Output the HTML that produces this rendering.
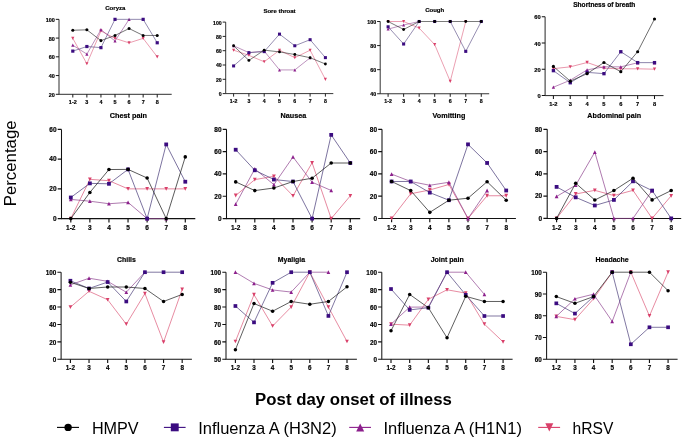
<!DOCTYPE html>
<html><head><meta charset="utf-8"><style>
html,body{margin:0;padding:0;background:#fff;}
svg{display:block;will-change:transform;font-family:"Liberation Sans",sans-serif;}
</style></head><body>
<svg width="685" height="441" viewBox="0 0 685 441">
<style>.b{stroke:#000;stroke-width:0.18px;}</style>
<rect width="685" height="441" fill="#fff"/>
<g><path d="M59 19.35V94.3H171.7" fill="none" stroke="#111" stroke-width="0.88"/><path d="M55.81 94.3H59M55.81 75.56H59M55.81 56.82H59M55.81 38.09H59M55.81 19.35H59M72.8 94.3V97.49M86.87 94.3V97.49M100.94 94.3V97.49M115.01 94.3V97.49M129.08 94.3V97.49M143.15 94.3V97.49M157.22 94.3V97.49" stroke="#111" stroke-width="0.97"/><text x="54.8" y="96.87" font-size="5.46" text-anchor="end" font-weight="bold" class="b">20</text><text x="54.8" y="78.13" font-size="5.46" text-anchor="end" font-weight="bold" class="b">40</text><text x="54.8" y="59.39" font-size="5.46" text-anchor="end" font-weight="bold" class="b">60</text><text x="54.8" y="40.65" font-size="5.46" text-anchor="end" font-weight="bold" class="b">80</text><text x="54.8" y="21.92" font-size="5.46" text-anchor="end" font-weight="bold" class="b">100</text><text x="72.8" y="104.16" font-size="5.46" text-anchor="middle" font-weight="bold" class="b">1-2</text><text x="86.87" y="104.16" font-size="5.46" text-anchor="middle" font-weight="bold" class="b">3</text><text x="100.94" y="104.16" font-size="5.46" text-anchor="middle" font-weight="bold" class="b">4</text><text x="115.01" y="104.16" font-size="5.46" text-anchor="middle" font-weight="bold" class="b">5</text><text x="129.08" y="104.16" font-size="5.46" text-anchor="middle" font-weight="bold" class="b">6</text><text x="143.15" y="104.16" font-size="5.46" text-anchor="middle" font-weight="bold" class="b">7</text><text x="157.22" y="104.16" font-size="5.46" text-anchor="middle" font-weight="bold" class="b">8</text><text x="115.35" y="9.8" font-size="6.06" text-anchor="middle" font-weight="bold" class="b">Coryza</text><polyline points="72.8,38.37 86.87,63.76 100.94,30.97 115.01,38.37 129.08,42.87 143.15,38.37 157.22,56.82" fill="none" stroke="#dc5a7a" stroke-width="0.6" stroke-linejoin="round"/><path d="M71.21 36.78H74.39L72.8 39.96Z" fill="#d9406a"/><path d="M85.28 62.17H88.46L86.87 65.35Z" fill="#d9406a"/><path d="M99.35 29.38H102.53L100.94 32.55Z" fill="#d9406a"/><path d="M113.42 36.78H116.6L115.01 39.96Z" fill="#d9406a"/><path d="M127.49 41.28H130.67L129.08 44.45Z" fill="#d9406a"/><path d="M141.56 36.78H144.74L143.15 39.96Z" fill="#d9406a"/><path d="M155.63 55.24H158.81L157.22 58.41Z" fill="#d9406a"/><polyline points="72.8,45.21 86.87,54.11 100.94,29.66 115.01,40.99 129.08,19.35" fill="none" stroke="#8f4590" stroke-width="0.6" stroke-linejoin="round"/><path d="M72.8 43.62L74.39 46.8H71.21Z" fill="#8c1f8c"/><path d="M86.87 52.52L88.46 55.7H85.28Z" fill="#8c1f8c"/><path d="M100.94 28.07L102.53 31.24H99.35Z" fill="#8c1f8c"/><path d="M115.01 39.4L116.6 42.58H113.42Z" fill="#8c1f8c"/><path d="M129.08 17.76L130.67 20.94H127.49Z" fill="#8c1f8c"/><polyline points="72.8,51.11 86.87,46.52 100.94,47.64 115.01,19.35 143.15,19.35 157.22,42.77" fill="none" stroke="#4a3d7a" stroke-width="0.6" stroke-linejoin="round"/><rect x="71.21" y="49.52" width="3.18" height="3.18" fill="#3b0c80"/><rect x="85.28" y="44.93" width="3.18" height="3.18" fill="#3b0c80"/><rect x="99.35" y="46.06" width="3.18" height="3.18" fill="#3b0c80"/><rect x="113.42" y="17.76" width="3.18" height="3.18" fill="#3b0c80"/><rect x="141.56" y="17.76" width="3.18" height="3.18" fill="#3b0c80"/><rect x="155.63" y="41.18" width="3.18" height="3.18" fill="#3b0c80"/><polyline points="72.8,30.22 86.87,29.84 100.94,40.62 115.01,35.46 129.08,28.53 143.15,35.46 157.22,35.46" fill="none" stroke="#1a1a1a" stroke-width="0.6" stroke-linejoin="round"/><circle cx="72.8" cy="30.22" r="1.51" fill="#000000"/><circle cx="86.87" cy="29.84" r="1.51" fill="#000000"/><circle cx="100.94" cy="40.62" r="1.51" fill="#000000"/><circle cx="115.01" cy="35.46" r="1.51" fill="#000000"/><circle cx="129.08" cy="28.53" r="1.51" fill="#000000"/><circle cx="143.15" cy="35.46" r="1.51" fill="#000000"/><circle cx="157.22" cy="35.46" r="1.51" fill="#000000"/></g><g><path d="M225.7 22.1V93.6H333.3" fill="none" stroke="#111" stroke-width="0.84"/><path d="M222.66 93.6H225.7M222.66 79.3H225.7M222.66 65H225.7M222.66 50.7H225.7M222.66 36.4H225.7M222.66 22.1H225.7M233.6 93.6V96.64M248.9 93.6V96.64M264.2 93.6V96.64M279.5 93.6V96.64M294.8 93.6V96.64M310.1 93.6V96.64M325.4 93.6V96.64" stroke="#111" stroke-width="0.92"/><text x="221.7" y="96.07" font-size="5.2" text-anchor="end" font-weight="bold" class="b">0</text><text x="221.7" y="81.77" font-size="5.2" text-anchor="end" font-weight="bold" class="b">20</text><text x="221.7" y="67.47" font-size="5.2" text-anchor="end" font-weight="bold" class="b">40</text><text x="221.7" y="53.17" font-size="5.2" text-anchor="end" font-weight="bold" class="b">60</text><text x="221.7" y="38.87" font-size="5.2" text-anchor="end" font-weight="bold" class="b">80</text><text x="221.7" y="24.57" font-size="5.2" text-anchor="end" font-weight="bold" class="b">100</text><text x="233.6" y="103.02" font-size="5.2" text-anchor="middle" font-weight="bold" class="b">1-2</text><text x="248.9" y="103.02" font-size="5.2" text-anchor="middle" font-weight="bold" class="b">3</text><text x="264.2" y="103.02" font-size="5.2" text-anchor="middle" font-weight="bold" class="b">4</text><text x="279.5" y="103.02" font-size="5.2" text-anchor="middle" font-weight="bold" class="b">5</text><text x="294.8" y="103.02" font-size="5.2" text-anchor="middle" font-weight="bold" class="b">6</text><text x="310.1" y="103.02" font-size="5.2" text-anchor="middle" font-weight="bold" class="b">7</text><text x="325.4" y="103.02" font-size="5.2" text-anchor="middle" font-weight="bold" class="b">8</text><text x="279.5" y="13" font-size="6.04" text-anchor="middle" font-weight="bold" class="b">Sore throat</text><polyline points="233.6,50.2 248.9,55.35 264.2,61.78 279.5,50.2 294.8,57.71 310.1,50.2 325.4,79.37" fill="none" stroke="#dc5a7a" stroke-width="0.58" stroke-linejoin="round"/><path d="M232.09 48.69H235.11L233.6 51.71Z" fill="#d9406a"/><path d="M247.39 53.84H250.41L248.9 56.86Z" fill="#d9406a"/><path d="M262.69 60.27H265.71L264.2 63.29Z" fill="#d9406a"/><path d="M277.99 48.69H281.01L279.5 51.71Z" fill="#d9406a"/><path d="M293.29 56.2H296.31L294.8 59.22Z" fill="#d9406a"/><path d="M308.59 48.69H311.61L310.1 51.71Z" fill="#d9406a"/><path d="M323.89 77.86H326.91L325.4 80.88Z" fill="#d9406a"/><polyline points="233.6,45.77 248.9,52.63 264.2,51.06 279.5,69.93 294.8,69.93 310.1,57.85" fill="none" stroke="#8f4590" stroke-width="0.58" stroke-linejoin="round"/><path d="M233.6 44.25L235.11 47.28H232.09Z" fill="#8c1f8c"/><path d="M248.9 51.12L250.41 54.14H247.39Z" fill="#8c1f8c"/><path d="M264.2 49.55L265.71 52.57H262.69Z" fill="#8c1f8c"/><path d="M279.5 68.42L281.01 71.45H277.99Z" fill="#8c1f8c"/><path d="M294.8 68.42L296.31 71.45H293.29Z" fill="#8c1f8c"/><path d="M310.1 56.34L311.61 59.36H308.59Z" fill="#8c1f8c"/><polyline points="233.6,65.93 248.9,52.63 264.2,51.63 279.5,34.11 294.8,45.77 310.1,39.69 325.4,57.64" fill="none" stroke="#4a3d7a" stroke-width="0.58" stroke-linejoin="round"/><rect x="232.09" y="64.42" width="3.02" height="3.02" fill="#3b0c80"/><rect x="247.39" y="51.12" width="3.02" height="3.02" fill="#3b0c80"/><rect x="262.69" y="50.12" width="3.02" height="3.02" fill="#3b0c80"/><rect x="277.99" y="32.6" width="3.02" height="3.02" fill="#3b0c80"/><rect x="293.29" y="44.25" width="3.02" height="3.02" fill="#3b0c80"/><rect x="308.59" y="38.18" width="3.02" height="3.02" fill="#3b0c80"/><rect x="323.89" y="56.12" width="3.02" height="3.02" fill="#3b0c80"/><polyline points="233.6,45.77 248.9,60.42 264.2,50.13 279.5,51.92 294.8,54.49 310.1,57.71 325.4,64" fill="none" stroke="#1a1a1a" stroke-width="0.58" stroke-linejoin="round"/><circle cx="233.6" cy="45.77" r="1.44" fill="#000000"/><circle cx="248.9" cy="60.42" r="1.44" fill="#000000"/><circle cx="264.2" cy="50.13" r="1.44" fill="#000000"/><circle cx="279.5" cy="51.92" r="1.44" fill="#000000"/><circle cx="294.8" cy="54.49" r="1.44" fill="#000000"/><circle cx="310.1" cy="57.71" r="1.44" fill="#000000"/><circle cx="325.4" cy="64" r="1.44" fill="#000000"/></g><g><path d="M380.2 21.5V93.75H489.2" fill="none" stroke="#111" stroke-width="0.85"/><path d="M377.12 93.75H380.2M377.12 69.67H380.2M377.12 45.58H380.2M377.12 21.5H380.2M388.1 93.75V96.83M403.63 93.75V96.83M419.16 93.75V96.83M434.69 93.75V96.83M450.22 93.75V96.83M465.75 93.75V96.83M481.28 93.75V96.83" stroke="#111" stroke-width="0.94"/><text x="376.15" y="96.25" font-size="5.27" text-anchor="end" font-weight="bold" class="b">40</text><text x="376.15" y="72.16" font-size="5.27" text-anchor="end" font-weight="bold" class="b">60</text><text x="376.15" y="48.08" font-size="5.27" text-anchor="end" font-weight="bold" class="b">80</text><text x="376.15" y="24" font-size="5.27" text-anchor="end" font-weight="bold" class="b">100</text><text x="388.1" y="103.28" font-size="5.27" text-anchor="middle" font-weight="bold" class="b">1-2</text><text x="403.63" y="103.28" font-size="5.27" text-anchor="middle" font-weight="bold" class="b">3</text><text x="419.16" y="103.28" font-size="5.27" text-anchor="middle" font-weight="bold" class="b">4</text><text x="434.69" y="103.28" font-size="5.27" text-anchor="middle" font-weight="bold" class="b">5</text><text x="450.22" y="103.28" font-size="5.27" text-anchor="middle" font-weight="bold" class="b">6</text><text x="465.75" y="103.28" font-size="5.27" text-anchor="middle" font-weight="bold" class="b">7</text><text x="481.28" y="103.28" font-size="5.27" text-anchor="middle" font-weight="bold" class="b">8</text><text x="434.7" y="11.8" font-size="6" text-anchor="middle" font-weight="bold" class="b">Cough</text><polyline points="388.1,21.5 403.63,21.5 419.16,28.12 434.69,44.62 450.22,81.35 465.75,21.5" fill="none" stroke="#dc5a7a" stroke-width="0.58" stroke-linejoin="round"/><path d="M386.57 19.97H389.63L388.1 23.03Z" fill="#d9406a"/><path d="M402.1 19.97H405.16L403.63 23.03Z" fill="#d9406a"/><path d="M417.63 26.59H420.69L419.16 29.65Z" fill="#d9406a"/><path d="M433.16 43.09H436.22L434.69 46.15Z" fill="#d9406a"/><path d="M448.69 79.82H451.75L450.22 82.88Z" fill="#d9406a"/><path d="M464.22 19.97H467.28L465.75 23.03Z" fill="#d9406a"/><polyline points="388.1,29.09 403.63,24.99 419.16,21.5" fill="none" stroke="#8f4590" stroke-width="0.58" stroke-linejoin="round"/><path d="M388.1 27.56L389.63 30.62H386.57Z" fill="#8c1f8c"/><path d="M403.63 23.46L405.16 26.52H402.1Z" fill="#8c1f8c"/><path d="M419.16 19.97L420.69 23.03H417.63Z" fill="#8c1f8c"/><polyline points="388.1,26.8 403.63,44.02 419.16,21.5" fill="none" stroke="#4a3d7a" stroke-width="0.58" stroke-linejoin="round"/><polyline points="450.22,21.5 465.75,51.36 481.28,21.5" fill="none" stroke="#4a3d7a" stroke-width="0.58" stroke-linejoin="round"/><rect x="386.57" y="25.27" width="3.06" height="3.06" fill="#3b0c80"/><rect x="402.1" y="42.49" width="3.06" height="3.06" fill="#3b0c80"/><rect x="417.63" y="19.97" width="3.06" height="3.06" fill="#3b0c80"/><rect x="433.16" y="19.97" width="3.06" height="3.06" fill="#3b0c80"/><rect x="448.69" y="19.97" width="3.06" height="3.06" fill="#3b0c80"/><rect x="464.22" y="49.83" width="3.06" height="3.06" fill="#3b0c80"/><rect x="479.75" y="19.97" width="3.06" height="3.06" fill="#3b0c80"/><polyline points="388.1,21.5 403.63,29.45 419.16,21.5 434.69,21.5 450.22,21.5 465.75,21.5 481.28,21.5" fill="none" stroke="#1a1a1a" stroke-width="0.58" stroke-linejoin="round"/><circle cx="388.1" cy="21.5" r="1.46" fill="#000000"/><circle cx="403.63" cy="29.45" r="1.46" fill="#000000"/><circle cx="419.16" cy="21.5" r="1.46" fill="#000000"/><circle cx="434.69" cy="21.5" r="1.46" fill="#000000"/><circle cx="450.22" cy="21.5" r="1.46" fill="#000000"/><circle cx="465.75" cy="21.5" r="1.46" fill="#000000"/><circle cx="481.28" cy="21.5" r="1.46" fill="#000000"/></g><g><path d="M545.1 16.8V95.6H663.5" fill="none" stroke="#111" stroke-width="0.92"/><path d="M541.76 95.6H545.1M541.76 69.33H545.1M541.76 43.07H545.1M541.76 16.8H545.1M553.4 95.6V98.94M570.25 95.6V98.94M587.1 95.6V98.94M603.95 95.6V98.94M620.8 95.6V98.94M637.65 95.6V98.94M654.5 95.6V98.94" stroke="#111" stroke-width="1.02"/><text x="540.7" y="98.26" font-size="5.72" text-anchor="end" font-weight="bold" class="b">0</text><text x="540.7" y="71.99" font-size="5.72" text-anchor="end" font-weight="bold" class="b">20</text><text x="540.7" y="45.73" font-size="5.72" text-anchor="end" font-weight="bold" class="b">40</text><text x="540.7" y="19.46" font-size="5.72" text-anchor="end" font-weight="bold" class="b">60</text><text x="553.4" y="105.89" font-size="5.72" text-anchor="middle" font-weight="bold" class="b">1-2</text><text x="570.25" y="105.89" font-size="5.72" text-anchor="middle" font-weight="bold" class="b">3</text><text x="587.1" y="105.89" font-size="5.72" text-anchor="middle" font-weight="bold" class="b">4</text><text x="603.95" y="105.89" font-size="5.72" text-anchor="middle" font-weight="bold" class="b">5</text><text x="620.8" y="105.89" font-size="5.72" text-anchor="middle" font-weight="bold" class="b">6</text><text x="637.65" y="105.89" font-size="5.72" text-anchor="middle" font-weight="bold" class="b">7</text><text x="654.5" y="105.89" font-size="5.72" text-anchor="middle" font-weight="bold" class="b">8</text><text x="604.3" y="6.8" font-size="6.58" text-anchor="middle" font-weight="bold" class="b">Shortness of breath</text><polyline points="553.4,68.68 570.25,66.84 587.1,62.5 603.95,68.28 620.8,68.81 637.65,68.81 654.5,69.2" fill="none" stroke="#dc5a7a" stroke-width="0.63" stroke-linejoin="round"/><path d="M551.74 67.01H555.06L553.4 70.34Z" fill="#d9406a"/><path d="M568.59 65.17H571.91L570.25 68.5Z" fill="#d9406a"/><path d="M585.44 60.84H588.76L587.1 64.17Z" fill="#d9406a"/><path d="M602.29 66.62H605.61L603.95 69.95Z" fill="#d9406a"/><path d="M619.14 67.14H622.46L620.8 70.47Z" fill="#d9406a"/><path d="M635.99 67.14H639.31L637.65 70.47Z" fill="#d9406a"/><path d="M652.84 67.54H656.16L654.5 70.87Z" fill="#d9406a"/><polyline points="553.4,87.19 570.25,80.23 587.1,69.86 603.95,66.84 620.8,66.84 637.65,62.77" fill="none" stroke="#8f4590" stroke-width="0.63" stroke-linejoin="round"/><path d="M553.4 85.53L555.06 88.86H551.74Z" fill="#8c1f8c"/><path d="M570.25 78.57L571.91 81.9H568.59Z" fill="#8c1f8c"/><path d="M587.1 68.2L588.76 71.52H585.44Z" fill="#8c1f8c"/><path d="M603.95 65.17L605.61 68.5H602.29Z" fill="#8c1f8c"/><path d="M620.8 65.17L622.46 68.5H619.14Z" fill="#8c1f8c"/><path d="M637.65 61.1L639.31 64.43H635.99Z" fill="#8c1f8c"/><path d="M654.5 61.1L656.16 64.43H652.84Z" fill="#8c1f8c"/><polyline points="553.4,70.65 570.25,82.73 587.1,72.35 603.95,73.67 620.8,51.73 637.65,62.64 654.5,62.64" fill="none" stroke="#4a3d7a" stroke-width="0.63" stroke-linejoin="round"/><rect x="551.74" y="68.98" width="3.33" height="3.33" fill="#3b0c80"/><rect x="568.59" y="81.07" width="3.33" height="3.33" fill="#3b0c80"/><rect x="585.44" y="70.69" width="3.33" height="3.33" fill="#3b0c80"/><rect x="602.29" y="72" width="3.33" height="3.33" fill="#3b0c80"/><rect x="619.14" y="50.07" width="3.33" height="3.33" fill="#3b0c80"/><rect x="635.99" y="60.97" width="3.33" height="3.33" fill="#3b0c80"/><rect x="652.84" y="60.97" width="3.33" height="3.33" fill="#3b0c80"/><polyline points="553.4,66.44 570.25,81.15 587.1,73.67 603.95,62.5 620.8,71.7 637.65,51.73 654.5,19.03" fill="none" stroke="#1a1a1a" stroke-width="0.63" stroke-linejoin="round"/><circle cx="553.4" cy="66.44" r="1.58" fill="#000000"/><circle cx="570.25" cy="81.15" r="1.58" fill="#000000"/><circle cx="587.1" cy="73.67" r="1.58" fill="#000000"/><circle cx="603.95" cy="62.5" r="1.58" fill="#000000"/><circle cx="620.8" cy="71.7" r="1.58" fill="#000000"/><circle cx="637.65" cy="51.73" r="1.58" fill="#000000"/><circle cx="654.5" cy="19.03" r="1.58" fill="#000000"/></g><g><path d="M61.5 129.4V218.6H195.3" fill="none" stroke="#111" stroke-width="1.05"/><path d="M57.7 218.6H61.5M57.7 188.87H61.5M57.7 159.13H61.5M57.7 129.4H61.5M70.8 218.6V222.4M89.88 218.6V222.4M108.96 218.6V222.4M128.04 218.6V222.4M147.12 218.6V222.4M166.2 218.6V222.4M185.28 218.6V222.4" stroke="#111" stroke-width="1.16"/><text x="56.5" y="220.94" font-size="6.5" text-anchor="end" font-weight="bold" class="b">0</text><text x="56.5" y="191.21" font-size="6.5" text-anchor="end" font-weight="bold" class="b">20</text><text x="56.5" y="161.47" font-size="6.5" text-anchor="end" font-weight="bold" class="b">40</text><text x="56.5" y="131.74" font-size="6.5" text-anchor="end" font-weight="bold" class="b">60</text><text x="70.8" y="230" font-size="6.5" text-anchor="middle" font-weight="bold" class="b">1-2</text><text x="89.88" y="230" font-size="6.5" text-anchor="middle" font-weight="bold" class="b">3</text><text x="108.96" y="230" font-size="6.5" text-anchor="middle" font-weight="bold" class="b">4</text><text x="128.04" y="230" font-size="6.5" text-anchor="middle" font-weight="bold" class="b">5</text><text x="147.12" y="230" font-size="6.5" text-anchor="middle" font-weight="bold" class="b">6</text><text x="166.2" y="230" font-size="6.5" text-anchor="middle" font-weight="bold" class="b">7</text><text x="185.28" y="230" font-size="6.5" text-anchor="middle" font-weight="bold" class="b">8</text><text x="128.4" y="118.1" font-size="7.3" text-anchor="middle" font-weight="bold" class="b">Chest pain</text><polyline points="70.8,218.6 89.88,179.35 108.96,180.69 128.04,188.87 147.12,188.87 166.2,188.87 185.28,188.87" fill="none" stroke="#dc5a7a" stroke-width="0.72" stroke-linejoin="round"/><path d="M68.91 216.71H72.69L70.8 220.49Z" fill="#d9406a"/><path d="M87.99 177.46H91.77L89.88 181.24Z" fill="#d9406a"/><path d="M107.07 178.8H110.85L108.96 182.58Z" fill="#d9406a"/><path d="M126.15 186.98H129.93L128.04 190.76Z" fill="#d9406a"/><path d="M145.23 186.98H149.01L147.12 190.76Z" fill="#d9406a"/><path d="M164.31 186.98H168.09L166.2 190.76Z" fill="#d9406a"/><path d="M183.39 186.98H187.17L185.28 190.76Z" fill="#d9406a"/><polyline points="70.8,199.42 89.88,201.21 108.96,203.73 128.04,202.4 147.12,218.6 166.2,218.6" fill="none" stroke="#8f4590" stroke-width="0.72" stroke-linejoin="round"/><path d="M70.8 197.53L72.69 201.31H68.91Z" fill="#8c1f8c"/><path d="M89.88 199.32L91.77 203.1H87.99Z" fill="#8c1f8c"/><path d="M108.96 201.84L110.85 205.62H107.07Z" fill="#8c1f8c"/><path d="M128.04 200.51L129.93 204.29H126.15Z" fill="#8c1f8c"/><path d="M147.12 216.71L149.01 220.49H145.23Z" fill="#8c1f8c"/><path d="M166.2 216.71L168.09 220.49H164.31Z" fill="#8c1f8c"/><polyline points="70.8,197.49 89.88,183.37 108.96,183.81 128.04,169.39 147.12,218.6 166.2,144.42 185.28,181.73" fill="none" stroke="#4a3d7a" stroke-width="0.72" stroke-linejoin="round"/><rect x="68.91" y="195.6" width="3.78" height="3.78" fill="#3b0c80"/><rect x="87.99" y="181.48" width="3.78" height="3.78" fill="#3b0c80"/><rect x="107.07" y="181.92" width="3.78" height="3.78" fill="#3b0c80"/><rect x="126.15" y="167.5" width="3.78" height="3.78" fill="#3b0c80"/><rect x="145.23" y="216.71" width="3.78" height="3.78" fill="#3b0c80"/><rect x="164.31" y="142.53" width="3.78" height="3.78" fill="#3b0c80"/><rect x="183.39" y="179.84" width="3.78" height="3.78" fill="#3b0c80"/><polyline points="70.8,218.6 89.88,192.43 108.96,169.54 128.04,169.39 147.12,178.01 166.2,218.6 185.28,156.9" fill="none" stroke="#1a1a1a" stroke-width="0.72" stroke-linejoin="round"/><circle cx="70.8" cy="218.6" r="1.8" fill="#000000"/><circle cx="89.88" cy="192.43" r="1.8" fill="#000000"/><circle cx="108.96" cy="169.54" r="1.8" fill="#000000"/><circle cx="128.04" cy="169.39" r="1.8" fill="#000000"/><circle cx="147.12" cy="178.01" r="1.8" fill="#000000"/><circle cx="166.2" cy="218.6" r="1.8" fill="#000000"/><circle cx="185.28" cy="156.9" r="1.8" fill="#000000"/></g><g><path d="M226.5 129.3V218.6H360.2" fill="none" stroke="#111" stroke-width="1.05"/><path d="M222.7 218.6H226.5M222.7 196.28H226.5M222.7 173.95H226.5M222.7 151.62H226.5M222.7 129.3H226.5M235.7 218.6V222.4M254.8 218.6V222.4M273.9 218.6V222.4M293 218.6V222.4M312.1 218.6V222.4M331.2 218.6V222.4M350.3 218.6V222.4" stroke="#111" stroke-width="1.16"/><text x="221.5" y="220.94" font-size="6.5" text-anchor="end" font-weight="bold" class="b">0</text><text x="221.5" y="198.62" font-size="6.5" text-anchor="end" font-weight="bold" class="b">20</text><text x="221.5" y="176.29" font-size="6.5" text-anchor="end" font-weight="bold" class="b">40</text><text x="221.5" y="153.97" font-size="6.5" text-anchor="end" font-weight="bold" class="b">60</text><text x="221.5" y="131.64" font-size="6.5" text-anchor="end" font-weight="bold" class="b">80</text><text x="235.7" y="230" font-size="6.5" text-anchor="middle" font-weight="bold" class="b">1-2</text><text x="254.8" y="230" font-size="6.5" text-anchor="middle" font-weight="bold" class="b">3</text><text x="273.9" y="230" font-size="6.5" text-anchor="middle" font-weight="bold" class="b">4</text><text x="293" y="230" font-size="6.5" text-anchor="middle" font-weight="bold" class="b">5</text><text x="312.1" y="230" font-size="6.5" text-anchor="middle" font-weight="bold" class="b">6</text><text x="331.2" y="230" font-size="6.5" text-anchor="middle" font-weight="bold" class="b">7</text><text x="350.3" y="230" font-size="6.5" text-anchor="middle" font-weight="bold" class="b">8</text><text x="293.35" y="118.1" font-size="7.23" text-anchor="middle" font-weight="bold" class="b">Nausea</text><polyline points="235.7,195.49 254.8,179.64 273.9,176.29 293,195.83 312.1,162.79 331.2,218.6 350.3,195.83" fill="none" stroke="#dc5a7a" stroke-width="0.72" stroke-linejoin="round"/><path d="M233.81 193.6H237.59L235.7 197.38Z" fill="#d9406a"/><path d="M252.91 177.75H256.69L254.8 181.53Z" fill="#d9406a"/><path d="M272.01 174.4H275.79L273.9 178.18Z" fill="#d9406a"/><path d="M291.11 193.94H294.89L293 197.72Z" fill="#d9406a"/><path d="M310.21 160.9H313.99L312.1 164.68Z" fill="#d9406a"/><path d="M329.31 216.71H333.09L331.2 220.49Z" fill="#d9406a"/><path d="M348.41 193.94H352.19L350.3 197.72Z" fill="#d9406a"/><polyline points="235.7,204.2 254.8,168.93 273.9,184.67 293,156.98 312.1,182.21 331.2,190.47" fill="none" stroke="#8f4590" stroke-width="0.72" stroke-linejoin="round"/><path d="M235.7 202.31L237.59 206.09H233.81Z" fill="#8c1f8c"/><path d="M254.8 167.04L256.69 170.82H252.91Z" fill="#8c1f8c"/><path d="M273.9 182.78L275.79 186.56H272.01Z" fill="#8c1f8c"/><path d="M293 155.09L294.89 158.87H291.11Z" fill="#8c1f8c"/><path d="M312.1 180.32L313.99 184.1H310.21Z" fill="#8c1f8c"/><path d="M331.2 188.58L333.09 192.36H329.31Z" fill="#8c1f8c"/><polyline points="235.7,149.73 254.8,170.27 273.9,179.53 293,181.54 312.1,218.6 331.2,134.88 350.3,163.01" fill="none" stroke="#4a3d7a" stroke-width="0.72" stroke-linejoin="round"/><rect x="233.81" y="147.84" width="3.78" height="3.78" fill="#3b0c80"/><rect x="252.91" y="168.38" width="3.78" height="3.78" fill="#3b0c80"/><rect x="272.01" y="177.64" width="3.78" height="3.78" fill="#3b0c80"/><rect x="291.11" y="179.65" width="3.78" height="3.78" fill="#3b0c80"/><rect x="310.21" y="216.71" width="3.78" height="3.78" fill="#3b0c80"/><rect x="329.31" y="132.99" width="3.78" height="3.78" fill="#3b0c80"/><rect x="348.41" y="161.12" width="3.78" height="3.78" fill="#3b0c80"/><polyline points="235.7,181.88 254.8,190.58 273.9,188.01 293,181.54 312.1,178.19 331.2,163.01 350.3,163.01" fill="none" stroke="#1a1a1a" stroke-width="0.72" stroke-linejoin="round"/><circle cx="235.7" cy="181.88" r="1.8" fill="#000000"/><circle cx="254.8" cy="190.58" r="1.8" fill="#000000"/><circle cx="273.9" cy="188.01" r="1.8" fill="#000000"/><circle cx="293" cy="181.54" r="1.8" fill="#000000"/><circle cx="312.1" cy="178.19" r="1.8" fill="#000000"/><circle cx="331.2" cy="163.01" r="1.8" fill="#000000"/><circle cx="350.3" cy="163.01" r="1.8" fill="#000000"/></g><g><path d="M382 129.3V218.5H515.9" fill="none" stroke="#111" stroke-width="1.05"/><path d="M378.2 218.5H382M378.2 196.2H382M378.2 173.9H382M378.2 151.6H382M378.2 129.3H382M391.6 218.5V222.3M410.7 218.5V222.3M429.8 218.5V222.3M448.9 218.5V222.3M468 218.5V222.3M487.1 218.5V222.3M506.2 218.5V222.3" stroke="#111" stroke-width="1.16"/><text x="377" y="220.84" font-size="6.5" text-anchor="end" font-weight="bold" class="b">0</text><text x="377" y="198.54" font-size="6.5" text-anchor="end" font-weight="bold" class="b">20</text><text x="377" y="176.24" font-size="6.5" text-anchor="end" font-weight="bold" class="b">40</text><text x="377" y="153.94" font-size="6.5" text-anchor="end" font-weight="bold" class="b">60</text><text x="377" y="131.64" font-size="6.5" text-anchor="end" font-weight="bold" class="b">80</text><text x="391.6" y="229.9" font-size="6.5" text-anchor="middle" font-weight="bold" class="b">1-2</text><text x="410.7" y="229.9" font-size="6.5" text-anchor="middle" font-weight="bold" class="b">3</text><text x="429.8" y="229.9" font-size="6.5" text-anchor="middle" font-weight="bold" class="b">4</text><text x="448.9" y="229.9" font-size="6.5" text-anchor="middle" font-weight="bold" class="b">5</text><text x="468" y="229.9" font-size="6.5" text-anchor="middle" font-weight="bold" class="b">6</text><text x="487.1" y="229.9" font-size="6.5" text-anchor="middle" font-weight="bold" class="b">7</text><text x="506.2" y="229.9" font-size="6.5" text-anchor="middle" font-weight="bold" class="b">8</text><text x="448.95" y="118.1" font-size="7.22" text-anchor="middle" font-weight="bold" class="b">Vomitting</text><polyline points="391.6,218.5 410.7,193.75 429.8,189.96 448.9,184.49 468,218.5 487.1,195.75 506.2,195.75" fill="none" stroke="#dc5a7a" stroke-width="0.72" stroke-linejoin="round"/><path d="M389.71 216.61H393.49L391.6 220.39Z" fill="#d9406a"/><path d="M408.81 191.86H412.59L410.7 195.64Z" fill="#d9406a"/><path d="M427.91 188.07H431.69L429.8 191.85Z" fill="#d9406a"/><path d="M447.01 182.6H450.79L448.9 186.38Z" fill="#d9406a"/><path d="M466.11 216.61H469.89L468 220.39Z" fill="#d9406a"/><path d="M485.21 193.86H488.99L487.1 197.64Z" fill="#d9406a"/><path d="M504.31 193.86H508.09L506.2 197.64Z" fill="#d9406a"/><polyline points="391.6,174.12 410.7,181.48 429.8,185.27 448.9,182.26 468,218.5 487.1,190.51" fill="none" stroke="#8f4590" stroke-width="0.72" stroke-linejoin="round"/><path d="M391.6 172.23L393.49 176.01H389.71Z" fill="#8c1f8c"/><path d="M410.7 179.59L412.59 183.37H408.81Z" fill="#8c1f8c"/><path d="M429.8 183.38L431.69 187.16H427.91Z" fill="#8c1f8c"/><path d="M448.9 180.37L450.79 184.15H447.01Z" fill="#8c1f8c"/><path d="M468 216.61L469.89 220.39H466.11Z" fill="#8c1f8c"/><path d="M487.1 188.62L488.99 192.4H485.21Z" fill="#8c1f8c"/><polyline points="391.6,181.48 410.7,181.48 429.8,192.63 448.9,200.21 468,144.35 487.1,162.97 506.2,190.51" fill="none" stroke="#4a3d7a" stroke-width="0.72" stroke-linejoin="round"/><rect x="389.71" y="179.59" width="3.78" height="3.78" fill="#3b0c80"/><rect x="408.81" y="179.59" width="3.78" height="3.78" fill="#3b0c80"/><rect x="427.91" y="190.74" width="3.78" height="3.78" fill="#3b0c80"/><rect x="447.01" y="198.32" width="3.78" height="3.78" fill="#3b0c80"/><rect x="466.11" y="142.46" width="3.78" height="3.78" fill="#3b0c80"/><rect x="485.21" y="161.08" width="3.78" height="3.78" fill="#3b0c80"/><rect x="504.31" y="188.62" width="3.78" height="3.78" fill="#3b0c80"/><polyline points="391.6,181.48 410.7,190.62 429.8,212.37 448.9,200.21 468,198.21 487.1,181.71 506.2,200.21" fill="none" stroke="#1a1a1a" stroke-width="0.72" stroke-linejoin="round"/><circle cx="391.6" cy="181.48" r="1.8" fill="#000000"/><circle cx="410.7" cy="190.62" r="1.8" fill="#000000"/><circle cx="429.8" cy="212.37" r="1.8" fill="#000000"/><circle cx="448.9" cy="200.21" r="1.8" fill="#000000"/><circle cx="468" cy="198.21" r="1.8" fill="#000000"/><circle cx="487.1" cy="181.71" r="1.8" fill="#000000"/><circle cx="506.2" cy="200.21" r="1.8" fill="#000000"/></g><g><path d="M547.2 129.3V218.4H681.2" fill="none" stroke="#111" stroke-width="1.05"/><path d="M543.4 218.4H547.2M543.4 196.12H547.2M543.4 173.85H547.2M543.4 151.58H547.2M543.4 129.3H547.2M556.6 218.4V222.2M575.7 218.4V222.2M594.8 218.4V222.2M613.9 218.4V222.2M633 218.4V222.2M652.1 218.4V222.2M671.2 218.4V222.2" stroke="#111" stroke-width="1.16"/><text x="542.2" y="220.74" font-size="6.5" text-anchor="end" font-weight="bold" class="b">0</text><text x="542.2" y="198.47" font-size="6.5" text-anchor="end" font-weight="bold" class="b">20</text><text x="542.2" y="176.19" font-size="6.5" text-anchor="end" font-weight="bold" class="b">40</text><text x="542.2" y="153.92" font-size="6.5" text-anchor="end" font-weight="bold" class="b">60</text><text x="542.2" y="131.64" font-size="6.5" text-anchor="end" font-weight="bold" class="b">80</text><text x="556.6" y="229.8" font-size="6.5" text-anchor="middle" font-weight="bold" class="b">1-2</text><text x="575.7" y="229.8" font-size="6.5" text-anchor="middle" font-weight="bold" class="b">3</text><text x="594.8" y="229.8" font-size="6.5" text-anchor="middle" font-weight="bold" class="b">4</text><text x="613.9" y="229.8" font-size="6.5" text-anchor="middle" font-weight="bold" class="b">5</text><text x="633" y="229.8" font-size="6.5" text-anchor="middle" font-weight="bold" class="b">6</text><text x="652.1" y="229.8" font-size="6.5" text-anchor="middle" font-weight="bold" class="b">7</text><text x="671.2" y="229.8" font-size="6.5" text-anchor="middle" font-weight="bold" class="b">8</text><text x="614.2" y="118.2" font-size="7.17" text-anchor="middle" font-weight="bold" class="b">Abdominal pain</text><polyline points="556.6,218.4 575.7,194.01 594.8,190.33 613.9,195.57 633,190.33 652.1,218.4 671.2,195.79" fill="none" stroke="#dc5a7a" stroke-width="0.72" stroke-linejoin="round"/><path d="M554.71 216.51H558.49L556.6 220.29Z" fill="#d9406a"/><path d="M573.81 192.12H577.59L575.7 195.9Z" fill="#d9406a"/><path d="M592.91 188.44H596.69L594.8 192.22Z" fill="#d9406a"/><path d="M612.01 193.68H615.79L613.9 197.46Z" fill="#d9406a"/><path d="M631.11 188.44H634.89L633 192.22Z" fill="#d9406a"/><path d="M650.21 216.51H653.99L652.1 220.29Z" fill="#d9406a"/><path d="M669.31 193.9H673.09L671.2 197.68Z" fill="#d9406a"/><polyline points="556.6,196.46 575.7,185.21 594.8,152.13 613.9,218.4 633,218.4 652.1,190.56" fill="none" stroke="#8f4590" stroke-width="0.72" stroke-linejoin="round"/><path d="M556.6 194.57L558.49 198.35H554.71Z" fill="#8c1f8c"/><path d="M575.7 183.32L577.59 187.1H573.81Z" fill="#8c1f8c"/><path d="M594.8 150.24L596.69 154.02H592.91Z" fill="#8c1f8c"/><path d="M613.9 216.51L615.79 220.29H612.01Z" fill="#8c1f8c"/><path d="M633 216.51L634.89 220.29H631.11Z" fill="#8c1f8c"/><path d="M652.1 188.67L653.99 192.45H650.21Z" fill="#8c1f8c"/><polyline points="556.6,186.88 575.7,197.35 594.8,205.48 613.9,199.91 633,181.31 652.1,190.56 671.2,218.4" fill="none" stroke="#4a3d7a" stroke-width="0.72" stroke-linejoin="round"/><rect x="554.71" y="184.99" width="3.78" height="3.78" fill="#3b0c80"/><rect x="573.81" y="195.46" width="3.78" height="3.78" fill="#3b0c80"/><rect x="592.91" y="203.59" width="3.78" height="3.78" fill="#3b0c80"/><rect x="612.01" y="198.02" width="3.78" height="3.78" fill="#3b0c80"/><rect x="631.11" y="179.42" width="3.78" height="3.78" fill="#3b0c80"/><rect x="650.21" y="188.67" width="3.78" height="3.78" fill="#3b0c80"/><rect x="669.31" y="216.51" width="3.78" height="3.78" fill="#3b0c80"/><polyline points="556.6,218.4 575.7,183.21 594.8,200.02 613.9,190.56 633,178.19 652.1,199.91 671.2,190.56" fill="none" stroke="#1a1a1a" stroke-width="0.72" stroke-linejoin="round"/><circle cx="556.6" cy="218.4" r="1.8" fill="#000000"/><circle cx="575.7" cy="183.21" r="1.8" fill="#000000"/><circle cx="594.8" cy="200.02" r="1.8" fill="#000000"/><circle cx="613.9" cy="190.56" r="1.8" fill="#000000"/><circle cx="633" cy="178.19" r="1.8" fill="#000000"/><circle cx="652.1" cy="199.91" r="1.8" fill="#000000"/><circle cx="671.2" cy="190.56" r="1.8" fill="#000000"/></g><g><path d="M61.1 272.2V359.3H191.9" fill="none" stroke="#111" stroke-width="1.02"/><path d="M57.4 359.3H61.1M57.4 341.88H61.1M57.4 324.46H61.1M57.4 307.04H61.1M57.4 289.62H61.1M57.4 272.2H61.1M70.4 359.3V363M89.03 359.3V363M107.66 359.3V363M126.29 359.3V363M144.92 359.3V363M163.55 359.3V363M182.18 359.3V363" stroke="#111" stroke-width="1.13"/><text x="56.23" y="362.18" font-size="6.34" text-anchor="end" font-weight="bold" class="b">0</text><text x="56.23" y="344.76" font-size="6.34" text-anchor="end" font-weight="bold" class="b">20</text><text x="56.23" y="327.34" font-size="6.34" text-anchor="end" font-weight="bold" class="b">40</text><text x="56.23" y="309.92" font-size="6.34" text-anchor="end" font-weight="bold" class="b">60</text><text x="56.23" y="292.5" font-size="6.34" text-anchor="end" font-weight="bold" class="b">80</text><text x="56.23" y="275.08" font-size="6.34" text-anchor="end" font-weight="bold" class="b">100</text><text x="70.4" y="370.23" font-size="6.34" text-anchor="middle" font-weight="bold" class="b">1-2</text><text x="89.03" y="370.23" font-size="6.34" text-anchor="middle" font-weight="bold" class="b">3</text><text x="107.66" y="370.23" font-size="6.34" text-anchor="middle" font-weight="bold" class="b">4</text><text x="126.29" y="370.23" font-size="6.34" text-anchor="middle" font-weight="bold" class="b">5</text><text x="144.92" y="370.23" font-size="6.34" text-anchor="middle" font-weight="bold" class="b">6</text><text x="163.55" y="370.23" font-size="6.34" text-anchor="middle" font-weight="bold" class="b">7</text><text x="182.18" y="370.23" font-size="6.34" text-anchor="middle" font-weight="bold" class="b">8</text><text x="126.5" y="261.5" font-size="6.9" text-anchor="middle" font-weight="bold" class="b">Chills</text><polyline points="70.4,307.13 89.03,291.27 107.66,299.72 126.29,324.2 144.92,293.54 163.55,342.14 182.18,289.36" fill="none" stroke="#dc5a7a" stroke-width="0.7" stroke-linejoin="round"/><path d="M68.56 305.28H72.24L70.4 308.97Z" fill="#d9406a"/><path d="M87.19 289.43H90.87L89.03 293.12Z" fill="#d9406a"/><path d="M105.82 297.88H109.5L107.66 301.57Z" fill="#d9406a"/><path d="M124.45 322.36H128.13L126.29 326.04Z" fill="#d9406a"/><path d="M143.08 291.7H146.76L144.92 295.38Z" fill="#d9406a"/><path d="M161.71 340.3H165.39L163.55 343.98Z" fill="#d9406a"/><path d="M180.34 287.52H184.02L182.18 291.2Z" fill="#d9406a"/><polyline points="70.4,284.83 89.03,278.21 107.66,281.35 126.29,292.23 144.92,272.2" fill="none" stroke="#8f4590" stroke-width="0.7" stroke-linejoin="round"/><path d="M70.4 282.99L72.24 286.67H68.56Z" fill="#8c1f8c"/><path d="M89.03 276.37L90.87 280.05H87.19Z" fill="#8c1f8c"/><path d="M107.66 279.5L109.5 283.19H105.82Z" fill="#8c1f8c"/><path d="M126.29 290.39L128.13 294.08H124.45Z" fill="#8c1f8c"/><path d="M144.92 270.36L146.76 274.04H143.08Z" fill="#8c1f8c"/><polyline points="70.4,280.74 89.03,288.49 107.66,282.04 126.29,301.47 144.92,272.2 163.55,272.2 182.18,272.2" fill="none" stroke="#4a3d7a" stroke-width="0.7" stroke-linejoin="round"/><rect x="68.56" y="278.89" width="3.69" height="3.69" fill="#3b0c80"/><rect x="87.19" y="286.64" width="3.69" height="3.69" fill="#3b0c80"/><rect x="105.82" y="280.2" width="3.69" height="3.69" fill="#3b0c80"/><rect x="124.45" y="299.62" width="3.69" height="3.69" fill="#3b0c80"/><rect x="143.08" y="270.36" width="3.69" height="3.69" fill="#3b0c80"/><rect x="161.71" y="270.36" width="3.69" height="3.69" fill="#3b0c80"/><rect x="180.34" y="270.36" width="3.69" height="3.69" fill="#3b0c80"/><polyline points="70.4,282.3 89.03,288.49 107.66,287.01 126.29,287.01 144.92,288.49 163.55,301.47 182.18,294.41" fill="none" stroke="#1a1a1a" stroke-width="0.7" stroke-linejoin="round"/><circle cx="70.4" cy="282.3" r="1.75" fill="#000000"/><circle cx="89.03" cy="288.49" r="1.75" fill="#000000"/><circle cx="107.66" cy="287.01" r="1.75" fill="#000000"/><circle cx="126.29" cy="287.01" r="1.75" fill="#000000"/><circle cx="144.92" cy="288.49" r="1.75" fill="#000000"/><circle cx="163.55" cy="301.47" r="1.75" fill="#000000"/><circle cx="182.18" cy="294.41" r="1.75" fill="#000000"/></g><g><path d="M226 272.2V359.3H356.9" fill="none" stroke="#111" stroke-width="1.02"/><path d="M222.29 359.3H226M222.29 341.88H226M222.29 324.46H226M222.29 307.04H226M222.29 289.62H226M222.29 272.2H226M235.4 359.3V363M254 359.3V363M272.6 359.3V363M291.2 359.3V363M309.8 359.3V363M328.4 359.3V363M347 359.3V363" stroke="#111" stroke-width="1.13"/><text x="221.12" y="362.18" font-size="6.34" text-anchor="end" font-weight="bold" class="b">50</text><text x="221.12" y="344.76" font-size="6.34" text-anchor="end" font-weight="bold" class="b">60</text><text x="221.12" y="327.34" font-size="6.34" text-anchor="end" font-weight="bold" class="b">70</text><text x="221.12" y="309.92" font-size="6.34" text-anchor="end" font-weight="bold" class="b">80</text><text x="221.12" y="292.5" font-size="6.34" text-anchor="end" font-weight="bold" class="b">90</text><text x="221.12" y="275.08" font-size="6.34" text-anchor="end" font-weight="bold" class="b">100</text><text x="235.4" y="370.23" font-size="6.34" text-anchor="middle" font-weight="bold" class="b">1-2</text><text x="254" y="370.23" font-size="6.34" text-anchor="middle" font-weight="bold" class="b">3</text><text x="272.6" y="370.23" font-size="6.34" text-anchor="middle" font-weight="bold" class="b">4</text><text x="291.2" y="370.23" font-size="6.34" text-anchor="middle" font-weight="bold" class="b">5</text><text x="309.8" y="370.23" font-size="6.34" text-anchor="middle" font-weight="bold" class="b">6</text><text x="328.4" y="370.23" font-size="6.34" text-anchor="middle" font-weight="bold" class="b">7</text><text x="347" y="370.23" font-size="6.34" text-anchor="middle" font-weight="bold" class="b">8</text><text x="291.45" y="261.7" font-size="6.9" text-anchor="middle" font-weight="bold" class="b">Myaligia</text><polyline points="235.4,341.53 254,294.67 272.6,326.03 291.2,307.04 309.8,272.2 328.4,307.04 347,341.53" fill="none" stroke="#dc5a7a" stroke-width="0.7" stroke-linejoin="round"/><path d="M233.56 339.69H237.24L235.4 343.37Z" fill="#d9406a"/><path d="M252.16 292.83H255.84L254 296.51Z" fill="#d9406a"/><path d="M270.76 324.19H274.44L272.6 327.87Z" fill="#d9406a"/><path d="M289.36 305.2H293.04L291.2 308.88Z" fill="#d9406a"/><path d="M307.96 270.36H311.64L309.8 274.04Z" fill="#d9406a"/><path d="M326.56 305.2H330.24L328.4 308.88Z" fill="#d9406a"/><path d="M345.16 339.69H348.84L347 343.37Z" fill="#d9406a"/><polyline points="235.4,272.2 254,283.35 272.6,289.97 291.2,292.06 309.8,272.2 328.4,272.2" fill="none" stroke="#8f4590" stroke-width="0.7" stroke-linejoin="round"/><path d="M235.4 270.36L237.24 274.04H233.56Z" fill="#8c1f8c"/><path d="M254 281.51L255.84 285.19H252.16Z" fill="#8c1f8c"/><path d="M272.6 288.13L274.44 291.81H270.76Z" fill="#8c1f8c"/><path d="M291.2 290.22L293.04 293.9H289.36Z" fill="#8c1f8c"/><path d="M309.8 270.36L311.64 274.04H307.96Z" fill="#8c1f8c"/><path d="M328.4 270.36L330.24 274.04H326.56Z" fill="#8c1f8c"/><polyline points="235.4,305.99 254,322.37 272.6,282.83 291.2,272.2 309.8,272.2 328.4,315.92 347,272.2" fill="none" stroke="#4a3d7a" stroke-width="0.7" stroke-linejoin="round"/><rect x="233.56" y="304.15" width="3.69" height="3.69" fill="#3b0c80"/><rect x="252.16" y="320.53" width="3.69" height="3.69" fill="#3b0c80"/><rect x="270.76" y="280.98" width="3.69" height="3.69" fill="#3b0c80"/><rect x="289.36" y="270.36" width="3.69" height="3.69" fill="#3b0c80"/><rect x="307.96" y="270.36" width="3.69" height="3.69" fill="#3b0c80"/><rect x="326.56" y="314.08" width="3.69" height="3.69" fill="#3b0c80"/><rect x="345.16" y="270.36" width="3.69" height="3.69" fill="#3b0c80"/><polyline points="235.4,349.72 254,303.56 272.6,311.22 291.2,301.47 309.8,304.25 328.4,301.47 347,286.83" fill="none" stroke="#1a1a1a" stroke-width="0.7" stroke-linejoin="round"/><circle cx="235.4" cy="349.72" r="1.75" fill="#000000"/><circle cx="254" cy="303.56" r="1.75" fill="#000000"/><circle cx="272.6" cy="311.22" r="1.75" fill="#000000"/><circle cx="291.2" cy="301.47" r="1.75" fill="#000000"/><circle cx="309.8" cy="304.25" r="1.75" fill="#000000"/><circle cx="328.4" cy="301.47" r="1.75" fill="#000000"/><circle cx="347" cy="286.83" r="1.75" fill="#000000"/></g><g><path d="M381.8 272.2V359.3H512.6" fill="none" stroke="#111" stroke-width="1.02"/><path d="M378.1 359.3H381.8M378.1 341.88H381.8M378.1 324.46H381.8M378.1 307.04H381.8M378.1 289.62H381.8M378.1 272.2H381.8M391 359.3V363M409.68 359.3V363M428.36 359.3V363M447.04 359.3V363M465.72 359.3V363M484.4 359.3V363M503.08 359.3V363" stroke="#111" stroke-width="1.13"/><text x="376.93" y="362.18" font-size="6.34" text-anchor="end" font-weight="bold" class="b">0</text><text x="376.93" y="344.76" font-size="6.34" text-anchor="end" font-weight="bold" class="b">20</text><text x="376.93" y="327.34" font-size="6.34" text-anchor="end" font-weight="bold" class="b">40</text><text x="376.93" y="309.92" font-size="6.34" text-anchor="end" font-weight="bold" class="b">60</text><text x="376.93" y="292.5" font-size="6.34" text-anchor="end" font-weight="bold" class="b">80</text><text x="376.93" y="275.08" font-size="6.34" text-anchor="end" font-weight="bold" class="b">100</text><text x="391" y="370.23" font-size="6.34" text-anchor="middle" font-weight="bold" class="b">1-2</text><text x="409.68" y="370.23" font-size="6.34" text-anchor="middle" font-weight="bold" class="b">3</text><text x="428.36" y="370.23" font-size="6.34" text-anchor="middle" font-weight="bold" class="b">4</text><text x="447.04" y="370.23" font-size="6.34" text-anchor="middle" font-weight="bold" class="b">5</text><text x="465.72" y="370.23" font-size="6.34" text-anchor="middle" font-weight="bold" class="b">6</text><text x="484.4" y="370.23" font-size="6.34" text-anchor="middle" font-weight="bold" class="b">7</text><text x="503.08" y="370.23" font-size="6.34" text-anchor="middle" font-weight="bold" class="b">8</text><text x="447.2" y="261.7" font-size="7" text-anchor="middle" font-weight="bold" class="b">Joint pain</text><polyline points="391,324.2 409.68,325.16 428.36,299.29 447.04,289.79 465.72,293.1 484.4,324.2 503.08,341.88" fill="none" stroke="#dc5a7a" stroke-width="0.7" stroke-linejoin="round"/><path d="M389.16 322.36H392.84L391 326.04Z" fill="#d9406a"/><path d="M407.84 323.31H411.52L409.68 327Z" fill="#d9406a"/><path d="M426.52 297.45H430.2L428.36 301.13Z" fill="#d9406a"/><path d="M445.2 287.95H448.88L447.04 291.64Z" fill="#d9406a"/><path d="M463.88 291.26H467.56L465.72 294.95Z" fill="#d9406a"/><path d="M482.56 322.36H486.24L484.4 326.04Z" fill="#d9406a"/><path d="M501.24 340.04H504.92L503.08 343.72Z" fill="#d9406a"/><polyline points="391,324.2 409.68,307.13 428.36,307.04 447.04,272.2 465.72,272.2 484.4,294.41" fill="none" stroke="#8f4590" stroke-width="0.7" stroke-linejoin="round"/><path d="M391 322.36L392.84 326.04H389.16Z" fill="#8c1f8c"/><path d="M409.68 305.28L411.52 308.97H407.84Z" fill="#8c1f8c"/><path d="M428.36 305.2L430.2 308.88H426.52Z" fill="#8c1f8c"/><path d="M447.04 270.36L448.88 274.04H445.2Z" fill="#8c1f8c"/><path d="M465.72 270.36L467.56 274.04H463.88Z" fill="#8c1f8c"/><path d="M484.4 292.57L486.24 296.25H482.56Z" fill="#8c1f8c"/><polyline points="391,289.01 409.68,309.91 428.36,307.74 447.04,272.2 465.72,294.85 484.4,316.01 503.08,316.01" fill="none" stroke="#4a3d7a" stroke-width="0.7" stroke-linejoin="round"/><rect x="389.16" y="287.17" width="3.69" height="3.69" fill="#3b0c80"/><rect x="407.84" y="308.07" width="3.69" height="3.69" fill="#3b0c80"/><rect x="426.52" y="305.89" width="3.69" height="3.69" fill="#3b0c80"/><rect x="445.2" y="270.36" width="3.69" height="3.69" fill="#3b0c80"/><rect x="463.88" y="293" width="3.69" height="3.69" fill="#3b0c80"/><rect x="482.56" y="314.17" width="3.69" height="3.69" fill="#3b0c80"/><rect x="501.24" y="314.17" width="3.69" height="3.69" fill="#3b0c80"/><polyline points="391,330.73 409.68,294.41 428.36,307.74 447.04,337.79 465.72,296.33 484.4,301.47 503.08,301.47" fill="none" stroke="#1a1a1a" stroke-width="0.7" stroke-linejoin="round"/><circle cx="391" cy="330.73" r="1.75" fill="#000000"/><circle cx="409.68" cy="294.41" r="1.75" fill="#000000"/><circle cx="428.36" cy="307.74" r="1.75" fill="#000000"/><circle cx="447.04" cy="337.79" r="1.75" fill="#000000"/><circle cx="465.72" cy="296.33" r="1.75" fill="#000000"/><circle cx="484.4" cy="301.47" r="1.75" fill="#000000"/><circle cx="503.08" cy="301.47" r="1.75" fill="#000000"/></g><g><path d="M546.6 272.2V359.3H677.6" fill="none" stroke="#111" stroke-width="1.02"/><path d="M542.89 359.3H546.6M542.89 337.52H546.6M542.89 315.75H546.6M542.89 293.98H546.6M542.89 272.2H546.6M556.3 359.3V363M574.93 359.3V363M593.56 359.3V363M612.19 359.3V363M630.82 359.3V363M649.45 359.3V363M668.08 359.3V363" stroke="#111" stroke-width="1.13"/><text x="541.73" y="362.18" font-size="6.34" text-anchor="end" font-weight="bold" class="b">60</text><text x="541.73" y="340.41" font-size="6.34" text-anchor="end" font-weight="bold" class="b">70</text><text x="541.73" y="318.63" font-size="6.34" text-anchor="end" font-weight="bold" class="b">80</text><text x="541.73" y="296.86" font-size="6.34" text-anchor="end" font-weight="bold" class="b">90</text><text x="541.73" y="275.08" font-size="6.34" text-anchor="end" font-weight="bold" class="b">100</text><text x="556.3" y="370.23" font-size="6.34" text-anchor="middle" font-weight="bold" class="b">1-2</text><text x="574.93" y="370.23" font-size="6.34" text-anchor="middle" font-weight="bold" class="b">3</text><text x="593.56" y="370.23" font-size="6.34" text-anchor="middle" font-weight="bold" class="b">4</text><text x="612.19" y="370.23" font-size="6.34" text-anchor="middle" font-weight="bold" class="b">5</text><text x="630.82" y="370.23" font-size="6.34" text-anchor="middle" font-weight="bold" class="b">6</text><text x="649.45" y="370.23" font-size="6.34" text-anchor="middle" font-weight="bold" class="b">7</text><text x="668.08" y="370.23" font-size="6.34" text-anchor="middle" font-weight="bold" class="b">8</text><text x="612.1" y="261.7" font-size="7" text-anchor="middle" font-weight="bold" class="b">Headache</text><polyline points="556.3,316.4 574.93,319.67 593.56,298.77 612.19,272.2" fill="none" stroke="#dc5a7a" stroke-width="0.7" stroke-linejoin="round"/><polyline points="630.82,272.2 649.45,315.97 668.08,272.2" fill="none" stroke="#dc5a7a" stroke-width="0.7" stroke-linejoin="round"/><path d="M554.46 314.56H558.14L556.3 318.25Z" fill="#d9406a"/><path d="M573.09 317.83H576.77L574.93 321.51Z" fill="#d9406a"/><path d="M591.72 296.92H595.4L593.56 300.61Z" fill="#d9406a"/><path d="M610.35 270.36H614.03L612.19 274.04Z" fill="#d9406a"/><path d="M628.98 270.36H632.66L630.82 274.04Z" fill="#d9406a"/><path d="M647.61 314.12H651.29L649.45 317.81Z" fill="#d9406a"/><path d="M666.24 270.36H669.92L668.08 274.04Z" fill="#d9406a"/><polyline points="556.3,316.4 574.93,298.77 593.56,294.19 612.19,321.41 630.82,272.2" fill="none" stroke="#8f4590" stroke-width="0.7" stroke-linejoin="round"/><path d="M556.3 314.56L558.14 318.25H554.46Z" fill="#8c1f8c"/><path d="M574.93 296.92L576.77 300.61H573.09Z" fill="#8c1f8c"/><path d="M593.56 292.35L595.4 296.04H591.72Z" fill="#8c1f8c"/><path d="M612.19 319.57L614.03 323.25H610.35Z" fill="#8c1f8c"/><path d="M630.82 270.36L632.66 274.04H628.98Z" fill="#8c1f8c"/><polyline points="556.3,303.34 574.93,313.57 593.56,296.59" fill="none" stroke="#4a3d7a" stroke-width="0.7" stroke-linejoin="round"/><polyline points="612.19,272.2 630.82,344.28 649.45,327.29 668.08,327.29" fill="none" stroke="#4a3d7a" stroke-width="0.7" stroke-linejoin="round"/><rect x="554.46" y="301.5" width="3.69" height="3.69" fill="#3b0c80"/><rect x="573.09" y="311.73" width="3.69" height="3.69" fill="#3b0c80"/><rect x="591.72" y="294.75" width="3.69" height="3.69" fill="#3b0c80"/><rect x="610.35" y="270.36" width="3.69" height="3.69" fill="#3b0c80"/><rect x="628.98" y="342.43" width="3.69" height="3.69" fill="#3b0c80"/><rect x="647.61" y="325.45" width="3.69" height="3.69" fill="#3b0c80"/><rect x="666.24" y="325.45" width="3.69" height="3.69" fill="#3b0c80"/><polyline points="556.3,296.59 574.93,303.34 593.56,296.59 612.19,272.2 630.82,272.2 649.45,272.2 668.08,290.71" fill="none" stroke="#1a1a1a" stroke-width="0.7" stroke-linejoin="round"/><circle cx="556.3" cy="296.59" r="1.75" fill="#000000"/><circle cx="574.93" cy="303.34" r="1.75" fill="#000000"/><circle cx="593.56" cy="296.59" r="1.75" fill="#000000"/><circle cx="612.19" cy="272.2" r="1.75" fill="#000000"/><circle cx="630.82" cy="272.2" r="1.75" fill="#000000"/><circle cx="649.45" cy="272.2" r="1.75" fill="#000000"/><circle cx="668.08" cy="290.71" r="1.75" fill="#000000"/></g>
<path d="M57.0 427.4H79.0" stroke="#000000" stroke-width="1.1"/><circle cx="68.1" cy="427.4" r="3.7" fill="#000000"/><text x="91.9" y="433.7" font-size="16.2">HMPV</text><path d="M163.9 427.4H185.6" stroke="#3b0c80" stroke-width="1.1"/><rect x="170.8" y="423.4" width="7.9" height="7.9" fill="#3b0c80"/><text x="198.2" y="433.7" font-size="16.5">Influenza A (H3N2)</text><path d="M349.2 427.4H371.0" stroke="#8c1f8c" stroke-width="1.1"/><path d="M360.2 423.5L364.2 431.5H356.2Z" fill="#8c1f8c"/><text x="383.4" y="433.7" font-size="16.5">Influenza A (H1N1)</text><path d="M538.2 427.4H560.1" stroke="#d9406a" stroke-width="1.1"/><path d="M545.3 423.3H553.3L549.3 431.5Z" fill="#d9406a"/><text x="572.6" y="433.7" font-size="15.6">hRSV</text><text x="353.5" y="405.4" font-size="16.8" font-weight="bold" text-anchor="middle">Post day onset of illness</text><text transform="translate(15.8 163.35) rotate(-90)" font-size="16.8" text-anchor="middle">Percentage</text>
</svg>
</body></html>
